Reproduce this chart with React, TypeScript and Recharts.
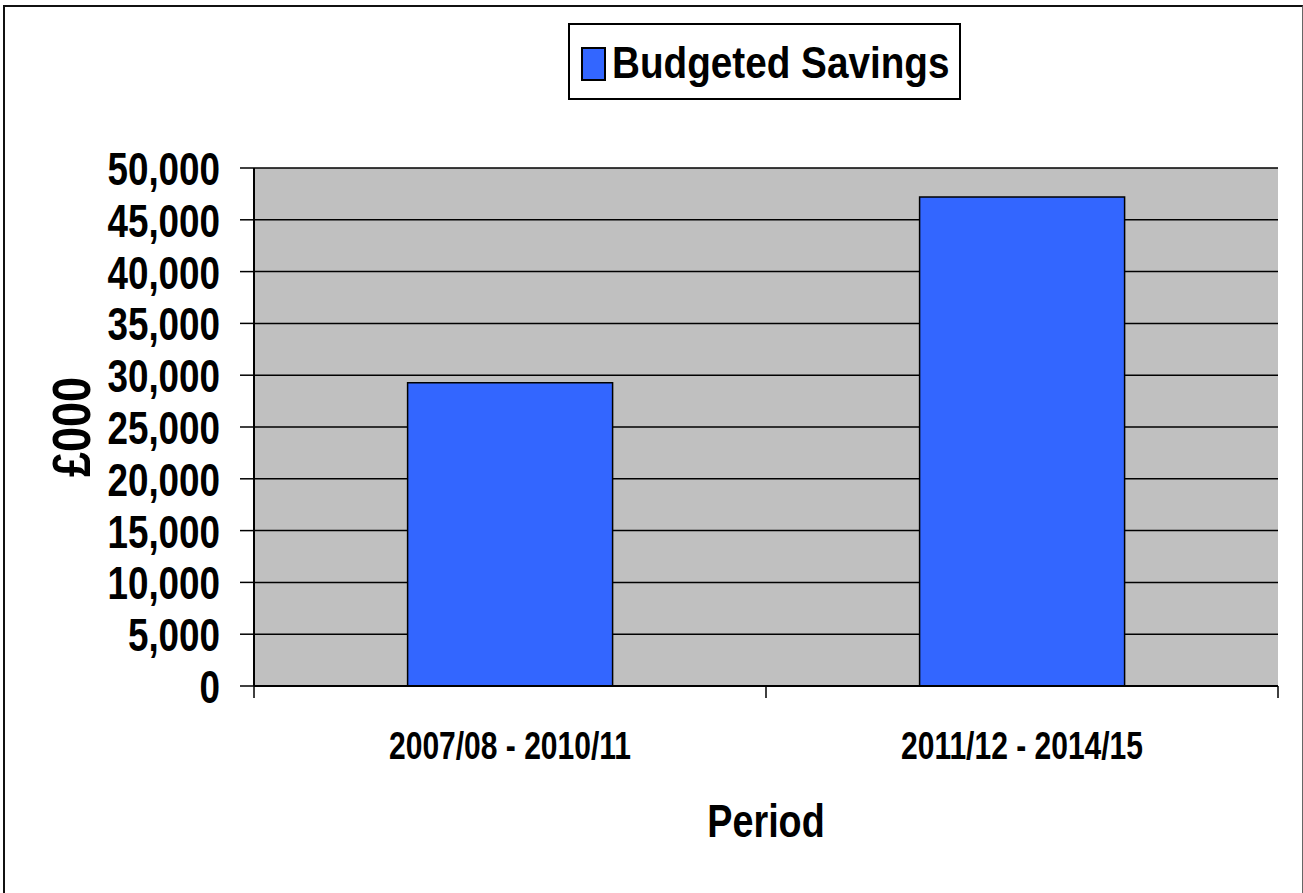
import React from 'react';
import { BarChart, Bar, XAxis, YAxis, CartesianGrid, Legend, Label } from 'recharts';

const categories = ['2007/08 - 2010/11', '2011/12 - 2014/15'];
const budgetedSavings = [29280, 47200];
const yTicks = [0, 5000, 10000, 15000, 20000, 25000, 30000, 35000, 40000, 45000, 50000];
const seriesName = 'Budgeted Savings';
const xTitle = 'Period';
const yTitle = '£000';

const data = categories.map((c, i) => ({ period: c, savings: budgetedSavings[i] }));

const FONT = "'Liberation Sans', Arial, sans-serif";
const BAR_COLOR = '#3366FF';

const XTick = (props: any) => {
  const { x, y, payload, index, visibleTicksCount } = props;
  const off = payload && typeof payload.offset === 'number' ? payload.offset : 0;
  const last = index === (visibleTicksCount ?? categories.length) - 1;
  return (
    <g>
      <line x1={x - off} x2={x - off} y1={y - 12} y2={y} stroke="#000" strokeWidth={1.5} />
      {last && <line x1={x + off} x2={x + off} y1={y - 12} y2={y} stroke="#000" strokeWidth={1.5} />}
      <text
        transform={`translate(${x},${y + 61}) scale(0.79,1)`}
        x={0}
        y={0}
        textAnchor="middle"
        fontFamily={FONT}
        fontWeight="bold"
        fontSize={38}
        fill="#000"
      >
        {payload.value}
      </text>
    </g>
  );
};

const YTick = (props: any) => {
  const { x, y, payload, tickFormatter } = props;
  const label = tickFormatter ? tickFormatter(payload.value) : String(payload.value);
  return (
    <text
      transform={`translate(${x},${y + 17}) scale(0.8,1)`}
      x={0}
      y={0}
      textAnchor="end"
      fontFamily={FONT}
      fontWeight="bold"
      fontSize={46}
      fill="#000"
    >
      {label}
    </text>
  );
};

const LegendContent = () => (
  <svg width={393} height={77} style={{ display: 'block' }}>
    <rect x={1} y={1} width={391} height={75} fill="#fff" stroke="#000" strokeWidth={2} />
    <rect x={14} y={25} width={23} height={32} fill={BAR_COLOR} stroke="#000" strokeWidth={2} />
    <text
      transform="translate(44,55) scale(0.86,1)"
      x={0}
      y={0}
      fontFamily={FONT}
      fontWeight="bold"
      fontSize={45}
      fill="#000"
    >
      {seriesName}
    </text>
  </svg>
);

export default function App() {
  return (
    <div
      style={{
        position: 'absolute',
        left: 0,
        top: 0,
        width: 1303,
        height: 893,
        background: '#fff',
        overflow: 'hidden',
      }}
    >
      <div
        style={{
          position: 'absolute',
          left: 3,
          top: 5,
          width: 1300,
          height: 900,
          boxSizing: 'border-box',
          borderLeft: '2px solid #111',
          borderTop: '2px solid #111',
          borderRight: '1.5px solid #666',
        }}
      />
      <BarChart
        width={1303}
        height={893}
        data={data}
        margin={{ top: 168, right: 25, left: 0, bottom: 0 }}
        barCategoryGap="30%"
        style={{ position: 'absolute', left: 0, top: 0 }}
      >
        <CartesianGrid fill="#C0C0C0" vertical={false} stroke="#000" strokeWidth={1.5} />
        <XAxis
          dataKey="period"
          height={207}
          tickLine={false}
          tickSize={12}
          tickMargin={0}
          axisLine={{ stroke: '#000', strokeWidth: 2 }}
          tick={<XTick />}
          interval={0}
        >
          <Label
            content={(p: any) => {
              const vb = p.viewBox || {};
              const cx = vb.x + vb.width / 2;
              const by = vb.y + 151;
              return (
                <text
                  transform={`translate(${cx},${by}) scale(0.82,1)`}
                  x={0}
                  y={0}
                  textAnchor="middle"
                  fontFamily={FONT}
                  fontWeight="bold"
                  fontSize={46}
                  fill="#000"
                >
                  {xTitle}
                </text>
              );
            }}
          />
        </XAxis>
        <YAxis
          width={254}
          domain={[0, 50000]}
          ticks={yTicks}
          interval={0}
          tickSize={14}
          tickMargin={20}
          tickLine={{ stroke: '#000', strokeWidth: 1.5 }}
          axisLine={{ stroke: '#000', strokeWidth: 2 }}
          tickFormatter={(v: number) => v.toLocaleString('en-US')}
          tick={<YTick />}
        >
          <Label
            content={(p: any) => {
              const vb = p.viewBox || {};
              const cx = vb.x + 71;
              const cy = vb.y + vb.height / 2;
              return (
                <text
                  transform={`translate(${cx},${cy}) rotate(-90) scale(0.85,1)`}
                  x={0}
                  y={0}
                  textAnchor="middle"
                  dominantBaseline="central"
                  fontFamily={FONT}
                  fontWeight="bold"
                  fontSize={53}
                  fill="#000"
                >
                  {yTitle}
                </text>
              );
            }}
          />
        </YAxis>
        <YAxis
          yAxisId="right"
          orientation="right"
          width={0}
          tick={false}
          tickLine={false}
          axisLine={{ stroke: '#555', strokeWidth: 1.5 }}
        />
        <Legend
          layout="horizontal"
          verticalAlign="middle"
          align="center"
          content={<LegendContent />}
          wrapperStyle={{ position: 'absolute', left: 568, top: 23, width: 393, height: 77 }}
        />
        <Bar
          dataKey="savings"
          name={seriesName}
          fill={BAR_COLOR}
          stroke="#000"
          strokeWidth={1.5}
          isAnimationActive={false}
        />
      </BarChart>
    </div>
  );
}
